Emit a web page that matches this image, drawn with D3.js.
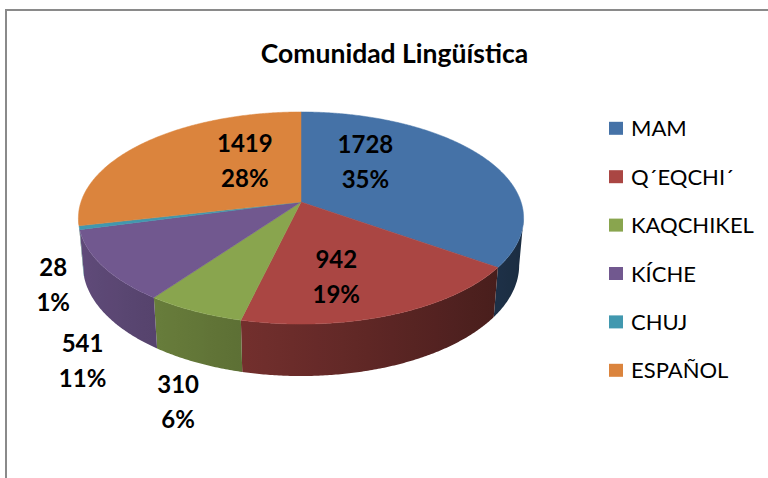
<!DOCTYPE html>
<html>
<head>
<meta charset="utf-8">
<script src="https://cdn.jsdelivr.net/npm/d3@7"></script>
<style>
body { margin: 0; background: #fff; }
text { font-family: Lato, "Open Sans", sans-serif; }
</style>
</head>
<body>
<svg width="768" height="478"></svg>
<script>
// data
const categories = ["MAM", "Q´EQCHI´", "KAQCHIKEL", "KÍCHE", "CHUJ", "ESPAÑOL"];
const values = [1728, 942, 310, 541, 28, 1419];
const percentLabels = ["35%", "19%", "6%", "11%", "1%", "28%"];
const colors = ["#4572A7", "#AA4643", "#89A54E", "#71588F", "#4198AF", "#DB843D"];

// label layout: inside the slice or outside, plus a nudge from the geometric anchor
const labelInside = [true, true, false, false, false, true];
const labelShift = [[-30, -17], [-6.5, 23], [7.7, 38], [21.5, 55], [17.5, 27.5], [26, -10]];

const svg = d3.select("svg");
const width = +svg.attr("width");
const height = +svg.attr("height");
const defs = svg.append("defs");

// frame
svg.append("path")
    .attr("d", `M6,${height} V10 H${width}`)
    .attr("fill", "none")
    .attr("stroke", "#8a8a8a")
    .attr("stroke-width", 2);

svg.append("text")
    .attr("x", 394.5)
    .attr("y", 63)
    .attr("text-anchor", "middle")
    .attr("font-size", 26.5)
    .attr("font-weight", "bold")
    .text("Comunidad Lingüística");

// 3d pie: unit disc seen in perspective
const cx = 301, cy = 202;
const focal = 1285, dist = 5.84, tilt = 28.1 * Math.PI / 180, thick = 0.245;

function project(r, a, h) {
    const x = r * Math.sin(a), z = r * Math.cos(a);
    const depth = dist + z * Math.cos(tilt) - h * Math.sin(tilt);
    const up = h * Math.cos(tilt) + z * Math.sin(tilt);
    return [cx + focal * x / depth, cy - focal * up / depth];
}

const pie = d3.pie().sort(null).value(d => d.value);
const slices = pie(categories.map((c, i) => ({name: c, value: values[i], color: colors[i], i: i})));

const edge = Math.acos(-Math.cos(tilt) / dist);
const step = Math.PI / 360;
const shade = a => 0.62 - 0.24 * Math.sin(a);

function arcPoints(a0, a1, r, h) {
    const n = Math.max(2, Math.ceil((a1 - a0) / step));
    return d3.range(n + 1).map(k => project(r, a0 + (a1 - a0) * k / n, h));
}

// visible outer walls, shaded by a horizontal gradient
const sides = svg.append("g").attr("class", "sides");
slices.forEach(s => {
    const a0 = Math.max(s.startAngle, edge), a1 = Math.min(s.endAngle, 2 * Math.PI - edge);
    if (a1 <= a0) return;
    const base = d3.rgb(s.data.color);
    const x0 = project(1, a0, 0)[0], x1 = project(1, a1, 0)[0];
    const grad = defs.append("linearGradient")
        .attr("id", "side" + s.data.i)
        .attr("gradientUnits", "userSpaceOnUse")
        .attr("x1", x0).attr("x2", x1).attr("y1", 0).attr("y2", 0);
    const n = 12;
    d3.range(n + 1).forEach(k => {
        const t = a0 + (a1 - a0) * k / n;
        const f = shade(t);
        const off = x1 === x0 ? 0 : (project(1, t, 0)[0] - x0) / (x1 - x0);
        grad.append("stop")
            .attr("offset", Math.max(0, Math.min(1, off)))
            .attr("stop-color", d3.rgb(base.r * f, base.g * f, base.b * f).formatHex());
    });
    const pts = arcPoints(a0, a1, 1, 0).concat(arcPoints(a0, a1, 1, -thick).reverse());
    sides.append("path")
        .attr("d", "M" + pts.join("L") + "Z")
        .attr("fill", `url(#side${s.data.i})`);
});

// top faces
const topLine = d3.line().curve(d3.curveLinearClosed);
svg.append("g").attr("class", "tops")
    .selectAll("path")
    .data(slices)
    .enter().append("path")
    .attr("d", s => topLine([project(0, 0, 0)].concat(arcPoints(s.startAngle, s.endAngle, 1, 0))))
    .attr("fill", s => s.data.color)
    .attr("stroke", s => s.data.color)
    .attr("stroke-width", 0.5);

// data labels
const labels = svg.append("g").attr("class", "labels")
    .selectAll("text")
    .data(slices)
    .enter().append("text")
    .attr("text-anchor", "middle")
    .attr("font-size", 24)
    .attr("font-weight", "bold")
    .attr("fill", "#000")
    .attr("transform", s => {
        const mid = (s.startAngle + s.endAngle) / 2;
        const p = labelInside[s.data.i] ? project(0.5, mid, 0) : project(1.2, mid, -thick / 2);
        const sh = labelShift[s.data.i];
        return `translate(${p[0] + sh[0]},${p[1] + sh[1]})`;
    });
labels.append("tspan").attr("x", 0).attr("y", -8.75).text(s => s.data.value);
labels.append("tspan").attr("x", 0).attr("y", 25.75).text(s => percentLabels[s.data.i]);

// legend
const legend = svg.append("g").attr("class", "legend")
    .selectAll("g")
    .data(categories)
    .enter().append("g")
    .attr("transform", (d, i) => `translate(609,${128.3 + i * 48.4})`);
legend.append("rect")
    .attr("x", 0).attr("y", -6.5)
    .attr("width", 14).attr("height", 13)
    .attr("fill", (d, i) => colors[i]);
legend.append("text")
    .attr("x", 22).attr("y", 8)
    .attr("font-size", 22)
    .attr("fill", "#000")
    .text(d => d);
</script>
</body>
</html>
